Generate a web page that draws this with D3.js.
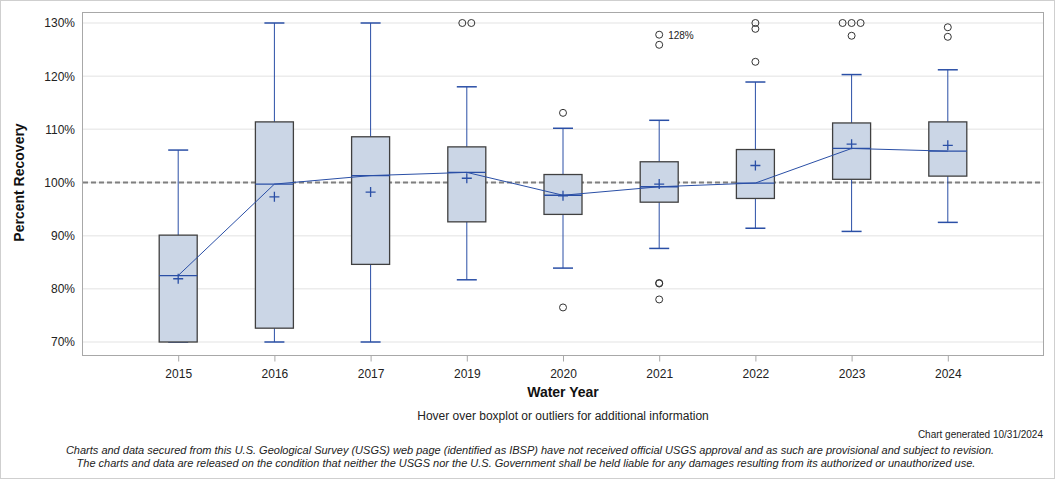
<!DOCTYPE html>
<html><head><meta charset="utf-8">
<script src="https://cdn.jsdelivr.net/npm/d3@7"></script>
<style>body{margin:0;background:#fff}svg{display:block}text{font-family:"Liberation Sans",Arial,sans-serif}</style>
</head><body><svg id="c" width="1056" height="480"></svg>
<script>
const years = ["2015","2016","2017","2019","2020","2021","2022","2023","2024"];
const whiskerLow = [70, 70, 70, 81.7, 83.9, 87.6, 91.4, 90.8, 92.5];
const q1 = [70, 72.6, 84.6, 92.6, 94.0, 96.3, 97.0, 100.6, 101.2];
const median = [82.5, 99.7, 101.3, 101.9, 97.6, 99.2, 99.9, 106.4, 105.9];
const q3 = [90.1, 111.4, 108.6, 106.7, 101.5, 103.9, 106.2, 111.2, 111.4];
const whiskerHigh = [106.1, 130, 130, 118.0, 110.2, 111.7, 118.9, 120.3, 121.2];
const means = [81.9, 97.3, 98.2, 100.8, 97.5, 99.7, 103.2, 107.2, 107.0];
const outliers = [
  [], [], [],
  [130, 130],
  [113.1, 76.5],
  [127.8, 125.9, 81.0, 81.1, 78.0],
  [130, 128.9, 122.7],
  [130, 130, 130, 127.6],
  [129.2, 127.4]
];
const outlierOffsets = [
  [], [], [],
  [-4.5, 4.5],
  [0, 0],
  [0, 0, 0, 0, 0],
  [0, 0, 0],
  [-9, 0, 9, 0],
  [0, 0]
];
const yTicks = [70, 80, 90, 100, 110, 120, 130];

const svg = d3.select("#c");
const L = 82, R = 1044, T = 12, B = 355;
const x = d3.scalePoint().domain(years).range([L, R]).padding(1);
const y = d3.scaleLinear().domain([70, 130]).range([342, 23]);
const blue = "#2a4fa6";

// outer frame
svg.append("rect").attr("x", 0.5).attr("y", 0.5).attr("width", 1054).attr("height", 478)
  .attr("fill", "none").attr("stroke", "#cfcfcf");

// gridlines
svg.append("g").selectAll("line").data(yTicks).join("line")
  .attr("x1", L + 1).attr("x2", R - 1).attr("y1", d => y(d)).attr("y2", d => y(d))
  .attr("stroke", "#ececec").attr("stroke-width", 1.5);

// reference line
svg.append("line").attr("x1", L + 1).attr("x2", R - 1).attr("y1", y(100)).attr("y2", y(100))
  .attr("stroke", "#7f7f7f").attr("stroke-width", 2).attr("stroke-dasharray", "5,3");

// frame
svg.append("rect").attr("x", L + 0.5).attr("y", T + 0.5).attr("width", R - L - 1).attr("height", B - T)
  .attr("fill", "none").attr("stroke", "#a8a8a8");

// y axis
const yAxis = d3.axisLeft(y).tickValues(yTicks).tickFormat(d => d + "%").tickSize(0).tickPadding(7);
const gy = svg.append("g").attr("transform", `translate(${L},0)`).call(yAxis);
gy.select(".domain").remove();
gy.selectAll("text").attr("font-size", 12).attr("fill", "#222").attr("font-family", "Liberation Sans, Arial, sans-serif");

// x axis
const xAxis = d3.axisBottom(x).tickSize(6).tickPadding(8);
const gx = svg.append("g").attr("transform", `translate(0,${B + 0.5})`).call(xAxis);
gx.select(".domain").remove();
gx.selectAll("line").attr("stroke", "#a8a8a8");
gx.selectAll("text").attr("font-size", 12).attr("fill", "#222").attr("font-family", "Liberation Sans, Arial, sans-serif");

const bw = 38, cw = 20;
const g = svg.append("g");
years.forEach((yr, i) => {
  const cx = x(yr);
  // whiskers
  g.append("line").attr("x1", cx).attr("x2", cx).attr("y1", y(whiskerHigh[i])).attr("y2", y(q3[i])).attr("stroke", blue);
  g.append("line").attr("x1", cx).attr("x2", cx).attr("y1", y(q1[i])).attr("y2", y(whiskerLow[i])).attr("stroke", blue);
  g.append("line").attr("x1", cx - cw / 2).attr("x2", cx + cw / 2).attr("y1", y(whiskerHigh[i])).attr("y2", y(whiskerHigh[i])).attr("stroke", blue).attr("stroke-width", 1.5);
  g.append("line").attr("x1", cx - cw / 2).attr("x2", cx + cw / 2).attr("y1", y(whiskerLow[i])).attr("y2", y(whiskerLow[i])).attr("stroke", blue).attr("stroke-width", 1.5);
  // box
  g.append("rect").attr("x", cx - bw / 2).attr("y", y(q3[i])).attr("width", bw).attr("height", y(q1[i]) - y(q3[i]))
    .attr("fill", "#cbd6e6").attr("stroke", "#404040").attr("stroke-width", 1.3);
  // median
  g.append("line").attr("x1", cx - bw / 2).attr("x2", cx + bw / 2).attr("y1", y(median[i])).attr("y2", y(median[i])).attr("stroke", blue).attr("stroke-width", 1.3);
  // mean
  const my = y(means[i]);
  g.append("path").attr("d", `M${cx - 5},${my}H${cx + 5}M${cx},${my - 5}V${my + 5}`).attr("stroke", blue).attr("stroke-width", 1.3).attr("fill", "none");
  // outliers
  outliers[i].forEach((v, j) => {
    g.append("circle").attr("cx", cx + outlierOffsets[i][j]).attr("cy", y(v)).attr("r", 3.5)
      .attr("fill", "none").attr("stroke", "#333").attr("stroke-width", 1);
  });
});

// median connecting line
svg.append("path").datum(years.map((yr, i) => [x(yr), y(median[i])]))
  .attr("d", d3.line()).attr("fill", "none").attr("stroke", blue).attr("stroke-width", 1);

// label
svg.append("text").attr("x", x("2021") + 9).attr("y", y(outliers[5][0]) + 4).attr("font-size", 10).attr("fill", "#222").text("128%");

// titles
svg.append("text").attr("transform", `translate(24,${(y(70) + y(130)) / 2}) rotate(-90)`).attr("text-anchor", "middle")
  .attr("font-size", 14).attr("font-weight", "bold").attr("fill", "#111").text("Percent Recovery");
svg.append("text").attr("x", (L + R) / 2).attr("y", 397).attr("text-anchor", "middle")
  .attr("font-size", 14).attr("font-weight", "bold").attr("fill", "#111").text("Water Year");
svg.append("text").attr("x", 563).attr("y", 420).attr("text-anchor", "middle")
  .attr("font-size", 12).attr("fill", "#222").text("Hover over boxplot or outliers for additional information");
svg.append("text").attr("x", 1043).attr("y", 438).attr("text-anchor", "end")
  .attr("font-size", 10).attr("fill", "#222").text("Chart generated 10/31/2024");
svg.append("text").attr("x", 530).attr("y", 454).attr("text-anchor", "middle").attr("font-style", "italic")
  .attr("font-size", 11).attr("fill", "#222").text("Charts and data secured from this U.S. Geological Survey (USGS) web page (identified as IBSP) have not received official USGS approval and as such are provisional and subject to revision.");
svg.append("text").attr("x", 526).attr("y", 467).attr("text-anchor", "middle").attr("font-style", "italic")
  .attr("font-size", 11).attr("fill", "#222").text("The charts and data are released on the condition that neither the USGS nor the U.S. Government shall be held liable for any damages resulting from its authorized or unauthorized use.");
</script></body></html>
